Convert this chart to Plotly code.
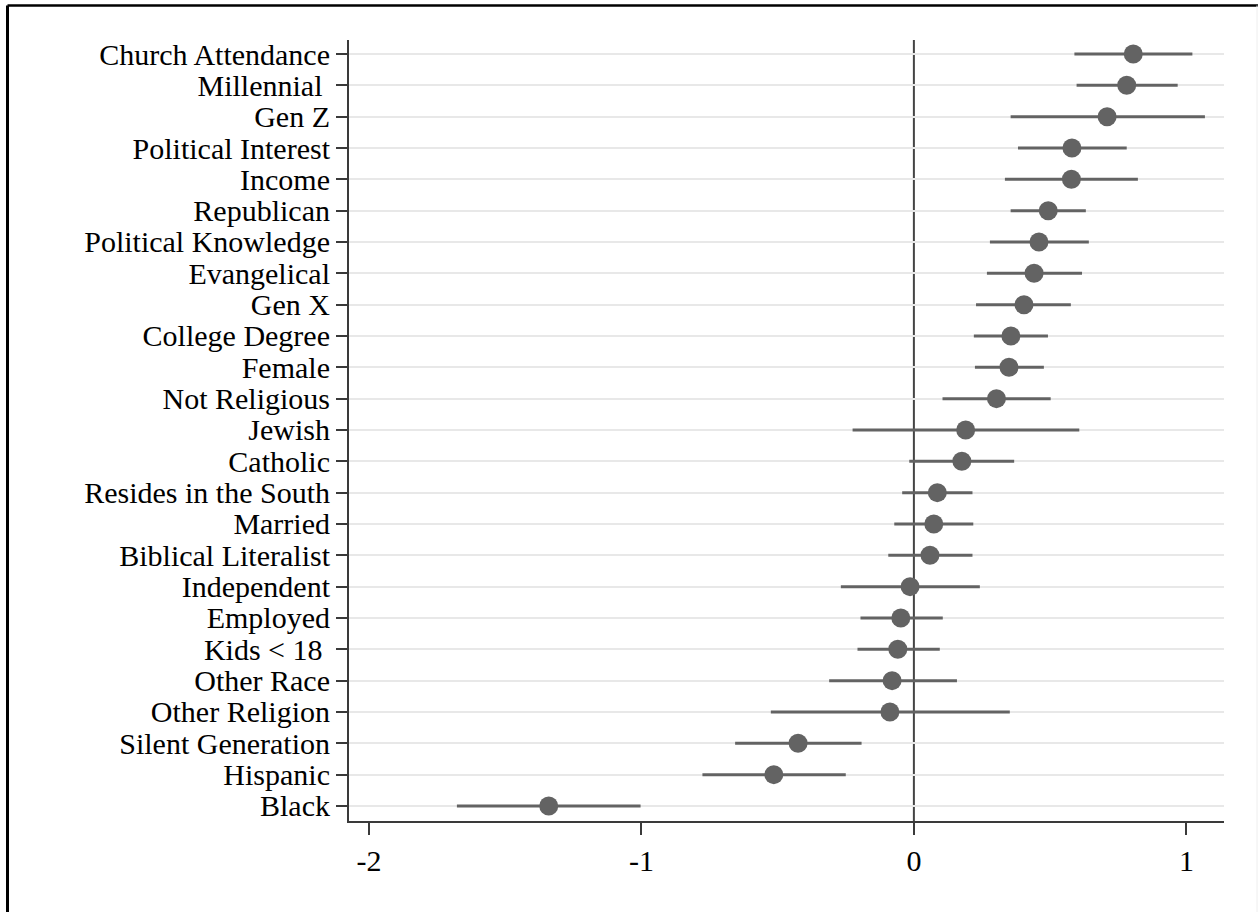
import plotly.graph_objects as go

labels = ["Church Attendance", "Millennial\u00a0", "Gen Z", "Political Interest", "Income",
          "Republican", "Political Knowledge", "Evangelical", "Gen X", "College Degree",
          "Female", "Not Religious", "Jewish", "Catholic", "Resides in the South",
          "Married", "Biblical Literalist", "Independent", "Employed", "Kids < 18\u00a0",
          "Other Race", "Other Religion", "Silent Generation", "Hispanic", "Black"]
estimate = [0.805, 0.781, 0.709, 0.580, 0.578, 0.493, 0.459, 0.441, 0.404, 0.356,
            0.349, 0.303, 0.190, 0.176, 0.086, 0.073, 0.059, -0.014, -0.048, -0.059,
            -0.080, -0.088, -0.425, -0.514, -1.340]
ci_low = [0.589, 0.597, 0.355, 0.382, 0.334, 0.355, 0.279, 0.268, 0.228, 0.220,
          0.224, 0.105, -0.225, -0.017, -0.043, -0.072, -0.094, -0.268, -0.196, -0.207,
          -0.311, -0.525, -0.656, -0.776, -1.677]
ci_high = [1.022, 0.968, 1.068, 0.781, 0.822, 0.631, 0.642, 0.617, 0.576, 0.492,
           0.477, 0.502, 0.607, 0.368, 0.215, 0.218, 0.215, 0.242, 0.106, 0.095,
           0.158, 0.352, -0.192, -0.250, -1.003]
x_ticks = [-2, -1, 0, 1]

rows = list(range(1, len(labels) + 1))
err_plus = [h - e for h, e in zip(ci_high, estimate)]
err_minus = [e - l for e, l in zip(estimate, ci_low)]

W, H = 1258, 912
L, R, T, B = 349, 1224, 40, 821

fig = go.Figure()
fig.add_trace(go.Scatter(
    x=estimate, y=rows, mode="markers",
    marker=dict(size=19, color="#636363"),
    error_x=dict(type="data", symmetric=False, array=err_plus, arrayminus=err_minus,
                 color="#636363", thickness=3, width=0),
    showlegend=False, hoverinfo="skip"))

font = "Liberation Serif, Times New Roman, Times, serif"
fig.update_layout(
    width=W, height=H,
    margin=dict(l=L, r=W - R, t=T, b=H - B, pad=0),
    paper_bgcolor="white", plot_bgcolor="white",
    font=dict(family=font, color="black"),
    xaxis=dict(range=[-2.073, 1.138], tickvals=x_ticks, ticktext=[str(v) for v in x_ticks],
               showgrid=False, zeroline=False, showline=True, linecolor="#3a3a3a", linewidth=2,
               ticks="outside", ticklen=12, tickwidth=2, tickcolor="#3a3a3a",
               tickfont=dict(size=30, family=font, color="black")),
    yaxis=dict(range=[25.48, 0.553], tickvals=rows, ticktext=labels,
               showgrid=True, gridcolor="#e8e8e8", gridwidth=2, zeroline=False,
               showline=True, linecolor="#3a3a3a", linewidth=2,
               ticks="outside", ticklen=11, tickwidth=2, tickcolor="#3a3a3a",
               tickfont=dict(size=30, family=font, color="black")),
    shapes=[
        dict(type="line", xref="x", yref="paper", x0=0, x1=0, y0=0, y1=1,
             line=dict(color="#444444", width=2), layer="below"),
        # outer frame (top and left borders of the screenshot)
        dict(type="line", xref="paper", yref="paper",
             x0=(7.5 - L) / (R - L), x1=(W + 5 - L) / (R - L),
             y0=1 + (T - 5.5) / (B - T), y1=1 + (T - 5.5) / (B - T),
             line=dict(color="black", width=2.5)),
        dict(type="line", xref="paper", yref="paper",
             x0=(7.5 - L) / (R - L), x1=(7.5 - L) / (R - L),
             y0=1 + (T - 5.5) / (B - T), y1=-(H + 5 - B) / (B - T),
             line=dict(color="black", width=3)),
        dict(type="line", xref="paper", yref="paper",
             x0=(1257 - L) / (R - L), x1=(1257 - L) / (R - L),
             y0=1 + (T - 5.5) / (B - T), y1=-(H + 5 - B) / (B - T),
             line=dict(color="#eeeeee", width=1)),
    ],
)

fig.write_html("out.html", config={"displayModeBar": False},
               post_script="document.body.style.margin='0';document.body.style.overflow='hidden';")
